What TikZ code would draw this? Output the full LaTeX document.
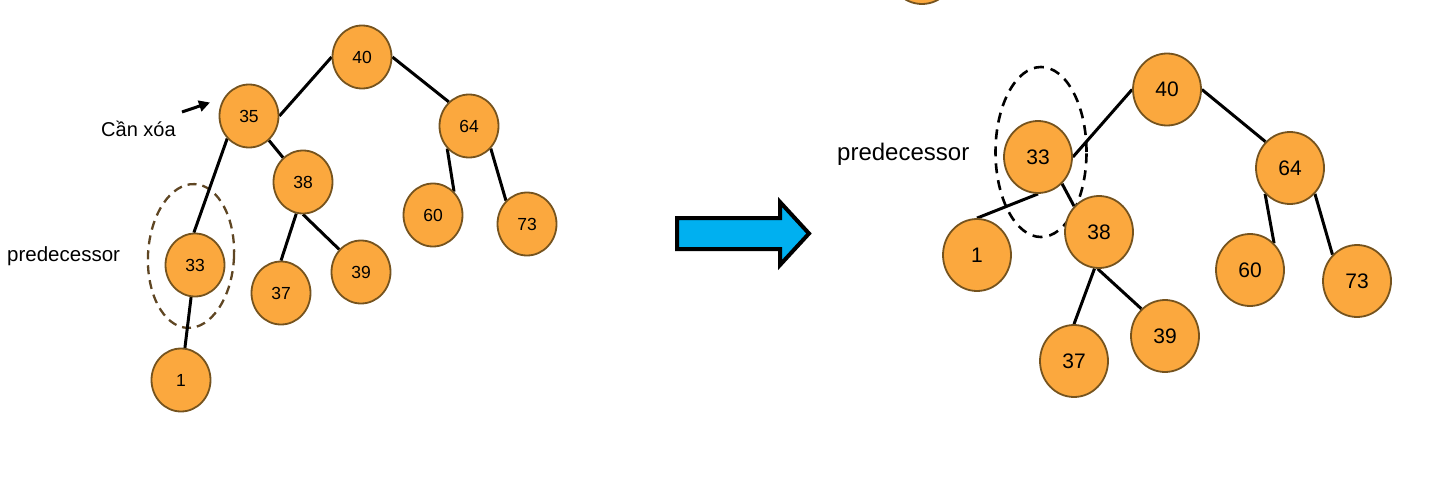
\documentclass[tikz,border=0pt]{standalone}
\usepackage{fontspec}
\setmainfont{Liberation Sans}
\usetikzlibrary{shapes.geometric,arrows.meta,backgrounds}
\definecolor{nfill}{RGB}{251,168,62}
\definecolor{nborder}{RGB}{117,83,30}
\definecolor{dashbrown}{RGB}{95,70,35}
\definecolor{bigarrow}{RGB}{0,176,240}
\begin{document}
\begin{tikzpicture}[x=1pt,y=-1pt,
  lnode/.style={ellipse,draw=nborder,fill=nfill,line width=1.8pt,minimum width=59pt,minimum height=63pt,inner sep=0pt,font=\fontsize{17.5}{17.5}\selectfont},
  rnode/.style={ellipse,draw=nborder,fill=nfill,line width=1.8pt,minimum width=68pt,minimum height=72pt,inner sep=0pt,font=\fontsize{21}{21}\selectfont},
  link/.style={line width=3pt,black},
  txt/.style={inner sep=0pt,anchor=base west}
]
\useasboundingbox (0,0) rectangle (1440,498);

% left tree
\node[lnode] (l40) at (362,57) {40};
\node[lnode] (l35) at (249,116) {35};
\node[lnode] (l64) at (469,126) {64};
\node[lnode] (l38) at (303,182) {38};
\node[lnode] (l60) at (433,215) {60};
\node[lnode] (l73) at (527,224) {73};
\node[lnode] (l33) at (195,265) {33};
\node[lnode] (l37) at (281,293) {37};
\node[lnode] (l39) at (361,272) {39};
\node[lnode] (l1) at (181,380) {1};

% right tree
\node[rnode] (rtop) at (922,-32) {};
\node[rnode] (r40) at (1167,89.5) {40};
\node[rnode] (r33) at (1038,157) {33};
\node[rnode] (r64) at (1290,168) {64};
\node[rnode] (r1) at (977,255) {1};
\node[rnode] (r38) at (1099,232) {38};
\node[rnode] (r60) at (1250,270) {60};
\node[rnode] (r73) at (1357,281) {73};
\node[rnode] (r37) at (1074,361) {37};
\node[rnode] (r39) at (1165,336) {39};

% labels
\node[txt,font=\fontsize{20}{20}\selectfont] (del) at (101,136) {Cần xóa};
\node[txt,font=\fontsize{20.5}{20.5}\selectfont] (predL) at (7,261) {predecessor};
\node[txt,font=\fontsize{24}{24}\selectfont] (predR) at (837,160) {predecessor};

\coordinate (delS) at (182,112);
\coordinate (delE) at (210,102.5);
\draw[line width=3pt,-{Triangle[length=11pt,width=11pt]}] (delS) -- (delE);

% big arrow
\draw[line width=4pt,fill=bigarrow,miter limit=10] (677,218) -- (780,218) -- (780,202) -- (809,233.5) -- (780,265) -- (780,249) -- (677,249) -- cycle;

\begin{scope}[on background layer]
\draw[dashbrown,line width=2.3pt,dash pattern=on 9pt off 6pt,rotate around={-3:(191,256)}] (191,256) ellipse [x radius=43pt,y radius=72pt];
\draw[black,line width=2.6pt,dash pattern=on 10pt off 7pt] (1041,152) ellipse [x radius=45.5pt,y radius=85pt];

\draw[link] (l35.east) -- (l40.west);
\draw[link] (l40.east) -- (l64.130);
\draw[link] (l35) -- (l38);
\draw[link] (l35.226) -- (l33.92);
\draw[link] (l33) -- (l1);
\draw[link] (l64.226) -- (l60.48);
\draw[link] (l64.-46) -- (l73.132);
\draw[link] (l38.258) -- (l37.90);
\draw[link] (l38.270) -- (l39.134);

\draw[link] (r33.east) -- (r40.west);
\draw[link] (r40.east) -- (r64.133);
\draw[link] (r33.270) -- (r1.90);
\draw[link] (r33.-48) -- (r38.134);
\draw[link] (r64.226) -- (r60.48);
\draw[link] (r64.-46) -- (r73.133);
\draw[link] (r38.263) -- (r37.90);
\draw[link] (r38.268) -- (r39.131);
\end{scope}
\end{tikzpicture}
\end{document}
